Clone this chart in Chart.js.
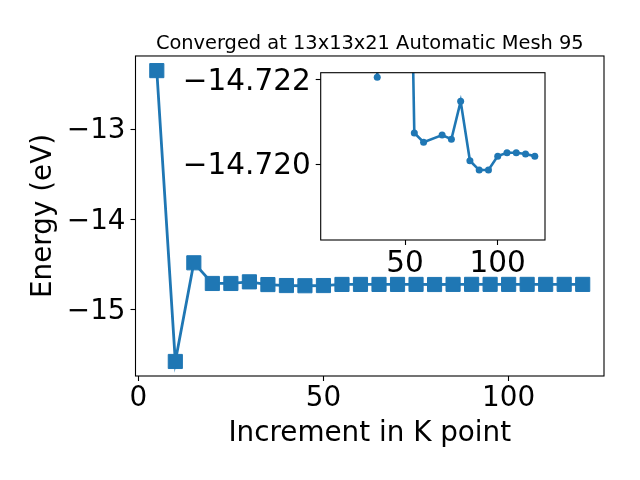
<!DOCTYPE html>
<html>
<head>
<meta charset="utf-8">
<script src="https://cdn.jsdelivr.net/npm/chart.js@4/dist/chart.umd.min.js"></script>
<style>
  html, body { margin: 0; padding: 0; background: #fff; }
  #wrap { position: relative; width: 640px; height: 480px; }
  #mainBox { position: absolute; left: 0; top: 0; width: 640px; height: 480px; }
  #insetBox { position: absolute; left: 170px; top: 60px; width: 390px; height: 230px; }
</style>
</head>
<body>
<div id="wrap">
  <div id="mainBox"><canvas id="mainChart"></canvas></div>
  <div id="insetBox"><canvas id="insetChart"></canvas></div>
</div>
<script>
// K point increments and total energies (eV)
const kPoints = [5, 10, 15, 20, 25, 30, 35, 40, 45, 50, 55, 60, 65, 70, 75, 80, 85, 90, 95, 100, 105, 110, 115, 120];
const energies = [-12.352, -15.574, -14.481, -14.710, -14.710, -14.692, -14.7221, -14.733, -14.735, -14.733,
                  -14.72074, -14.72052, -14.7206, -14.72069, -14.72059, -14.72149, -14.72008, -14.71986, -14.71986,
                  -14.72019, -14.72027, -14.72027, -14.72024, -14.72019];

// zoomed inset series
const insetKPoints = [35, 40, 45, 50, 55, 60, 70, 75, 80, 85, 90, 95, 100, 105, 110, 115, 120];
const insetEnergies = [-14.72206, -14.733, -14.735, -14.733, -14.72074, -14.72052, -14.72069, -14.72059, -14.72149,
                       -14.72008, -14.71986, -14.71986, -14.72019, -14.72027, -14.72027, -14.72024, -14.72019];

const mainXTicks = [0, 50, 100];
const mainYTicks = [-15, -14, -13];
const insetXTicks = [50, 100];
const insetYTicks = [-14.722, -14.720];

const BLUE = '#1f77b4';
const FONT = 'DejaVu Sans';

Chart.defaults.color = '#000';
Chart.defaults.font.family = FONT;

function minusLabel(v, digits) {
    const s = digits === undefined ? String(Math.abs(v)) : Math.abs(v).toFixed(digits);
    return (v < 0 ? '\u2212' : '') + s;
}

// no extra room for overhanging tick labels, axes box stays where we put it
function noScalePad(s) {
    s.paddingTop = 0;
    s.paddingBottom = 0;
    s.paddingLeft = 0;
    s.paddingRight = 0;
}

// axes frame (all four spines), optional white face
const framePlugin = {
    id: 'frame',
    beforeDatasetsDraw(chart, args, opts) {
        const a = chart.chartArea;
        if (opts.fill) {
            chart.ctx.save();
            chart.ctx.fillStyle = '#fff';
            chart.ctx.fillRect(a.left, a.top, a.right - a.left, a.bottom - a.top);
            chart.ctx.restore();
        }
    },
    afterDatasetsDraw(chart) {
        const a = chart.chartArea;
        const ctx = chart.ctx;
        ctx.save();
        ctx.strokeStyle = '#000';
        ctx.lineWidth = 1.1;
        ctx.strokeRect(a.left, a.top, a.right - a.left, a.bottom - a.top);
        ctx.restore();
    }
};

const tickGrid = { display: true, drawOnChartArea: false, drawTicks: true, tickLength: 5, tickColor: '#000', tickWidth: 1.1 };

// ===== MAIN CHART =====
new Chart(document.getElementById('mainChart'), {
    type: 'line',
    data: {
        datasets: [{
            data: kPoints.map((k, i) => ({ x: k, y: energies[i] })),
            borderColor: BLUE,
            backgroundColor: BLUE,
            borderWidth: 2.8,
            pointStyle: 'rect',
            pointRadius: 10,
            pointBorderWidth: 1,
            pointBorderColor: BLUE,
            pointBackgroundColor: BLUE,
            tension: 0
        }]
    },
    options: {
        responsive: true,
        maintainAspectRatio: false,
        animation: false,
        events: [],
        layout: { padding: { left: 0, right: 36, top: 0, bottom: 0 } },
        plugins: {
            legend: { display: false },
            tooltip: { enabled: false },
            title: {
                display: true,
                text: 'Converged at 13x13x21 Automatic Mesh 95',
                fullSize: false,
                color: '#000',
                font: { family: FONT, size: 19.4, weight: 'normal', lineHeight: 1.2 },
                padding: { top: 32.4, bottom: 0.3 }
            },
            frame: { fill: false }
        },
        scales: {
            x: {
                type: 'linear',
                min: -0.75,
                max: 125.75,
                afterBuildTicks: s => { s.ticks = mainXTicks.map(v => ({ value: v })); },
                afterFit: s => { s.height = 104; noScalePad(s); },
                ticks: { font: { size: 27.8 }, padding: 1, maxRotation: 0, callback: v => String(v) },
                grid: tickGrid,
                border: { display: false },
                title: {
                    display: true,
                    text: 'Increment in K point',
                    font: { size: 27.8, lineHeight: 1.2 },
                    padding: { top: 0, bottom: 30 }
                }
            },
            y: {
                type: 'linear',
                min: -15.735,
                max: -12.19,
                afterBuildTicks: s => { s.ticks = mainYTicks.map(v => ({ value: v })); },
                afterFit: s => { s.width = 135.5; noScalePad(s); },
                ticks: { font: { size: 27.8 }, padding: 5, labelOffset: 2, callback: v => minusLabel(v) },
                grid: tickGrid,
                border: { display: false },
                title: {
                    display: true,
                    text: 'Energy (eV)',
                    font: { size: 27.8, lineHeight: 1.2 },
                    padding: { top: 27, bottom: 0 }
                }
            }
        }
    },
    plugins: [framePlugin]
});

// ===== INSET CHART =====
new Chart(document.getElementById('insetChart'), {
    type: 'line',
    data: {
        datasets: [{
            data: insetKPoints.map((k, i) => ({ x: k, y: insetEnergies[i] })),
            borderColor: BLUE,
            backgroundColor: BLUE,
            borderWidth: 2.6,
            pointStyle: 'circle',
            pointRadius: 3.5,
            pointBorderWidth: 0,
            pointBackgroundColor: BLUE,
            tension: 0,
            clip: 0
        }]
    },
    options: {
        responsive: true,
        maintainAspectRatio: false,
        animation: false,
        events: [],
        layout: { padding: { left: 0, right: 15, top: 12.7, bottom: 0 } },
        plugins: {
            legend: { display: false },
            tooltip: { enabled: false },
            frame: { fill: true }
        },
        scales: {
            x: {
                type: 'linear',
                min: 4.5,
                max: 125.5,
                afterBuildTicks: s => { s.ticks = insetXTicks.map(v => ({ value: v })); },
                afterFit: s => { s.height = 50; noScalePad(s); },
                ticks: { font: { size: 29.5 }, padding: 1.5, maxRotation: 0, callback: v => String(v) },
                grid: tickGrid,
                border: { display: false }
            },
            y: {
                type: 'linear',
                reverse: true,
                min: -14.72217,
                max: -14.7182,
                afterBuildTicks: s => { s.ticks = insetYTicks.map(v => ({ value: v })); },
                afterFit: s => { s.width = 150.7; noScalePad(s); },
                ticks: { font: { size: 29.5 }, padding: 5, labelOffset: 2, callback: v => minusLabel(v, 3) },
                grid: tickGrid,
                border: { display: false }
            }
        }
    },
    plugins: [framePlugin]
});
</script>
</body>
</html>
